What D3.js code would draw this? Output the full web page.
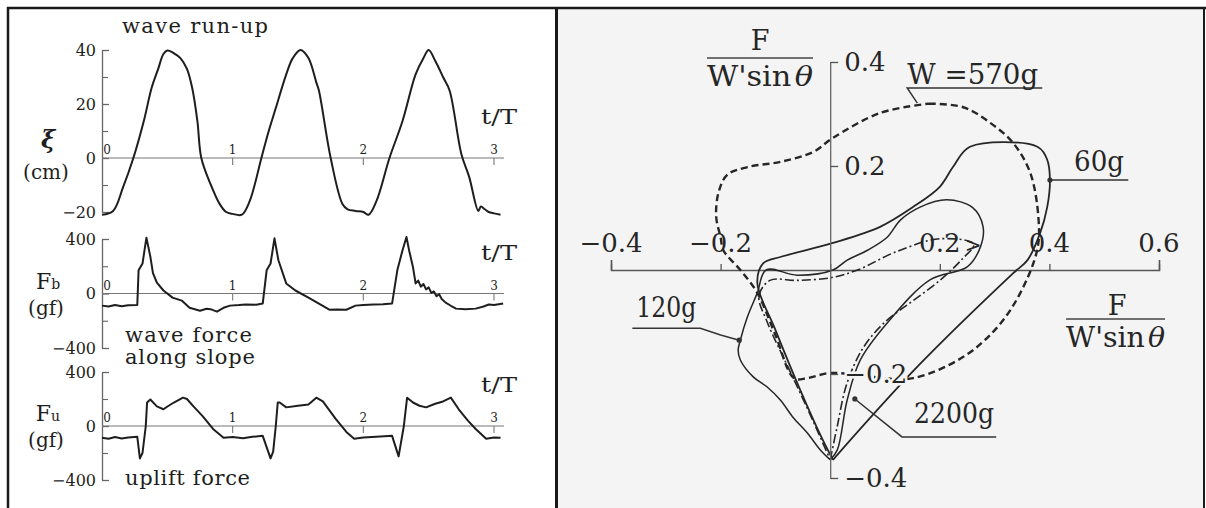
<!DOCTYPE html>
<html>
<head>
<meta charset="utf-8">
<script src="https://cdn.jsdelivr.net/npm/d3@7"></script>
<style>
  html, body { margin: 0; padding: 0; background: #fff; }
  svg { display: block; font-family: "DejaVu Serif", "Liberation Serif", serif; }
</style>
</head>
<body>
<svg id="chart" width="1206" height="508"></svg>
<script>
// ---- time records (t/T against value) ----
const periodTicks = [0, 1, 2, 3];

const runupT = [0, 0.085, 0.16, 0.24, 0.32, 0.38, 0.43, 0.47, 0.5, 0.52, 0.56, 0.6, 0.65, 0.69, 0.73,
  0.76, 0.83, 0.9, 0.95, 1.0, 1.07, 1.13, 1.22, 1.27, 1.33, 1.41, 1.46, 1.52, 1.58, 1.64,
  1.66, 1.75, 1.84, 1.88, 1.94, 2.0, 2.04, 2.1, 2.2, 2.3, 2.4, 2.46, 2.5, 2.55, 2.61,
  2.66, 2.75, 2.81, 2.88, 2.9, 2.93, 2.96, 3.0, 3.05];
const runupXi = [-21, -19.6, -11, 0, 13.7, 26, 33, 38.5, 39.8, 39.6, 38.5, 37, 33, 26, 13.7,
  0, -9.6, -17, -20, -20.7, -21, -16, 0, 9, 18.5, 31, 37, 40, 37, 28,
  25, 0, -17, -19, -19.6, -20, -21, -16, 0, 13.7, 31, 37, 40, 36, 30,
  25, 1.5, -7, -19.6, -18, -19, -20, -20.5, -21];

const fbT = [0, 0.05, 0.1, 0.15, 0.2, 0.27, 0.28, 0.31, 0.34, 0.37, 0.39, 0.42, 0.47, 0.54, 0.61,
  0.67, 0.75, 0.8, 0.83, 0.88, 0.93, 0.98, 1.05, 1.1, 1.18, 1.23, 1.26, 1.29, 1.32, 1.35,
  1.41, 1.48, 1.58, 1.66, 1.74, 1.8, 1.87, 1.94, 2.0, 2.08, 2.15, 2.22, 2.26, 2.3, 2.33,
  2.35, 2.38, 2.4, 2.42, 2.44, 2.46, 2.48, 2.5, 2.52, 2.54, 2.56, 2.58, 2.6, 2.63, 2.67,
  2.71, 2.78, 2.86, 2.92, 2.96, 3.0, 3.07];
const fbVal = [-89, -95, -84, -93, -86, -85, 170, 220, 410, 270, 150, 80, 22, -30, -52,
  -104, -126, -112, -115, -133, -105, -89, -85, -80, -82, -74, 170, 220, 405, 244,
  74, 22, -30, -74, -119, -117, -119, -89, -85, -80, -78, -74, 170, 318, 415,
  318, 193, 74, 95, 50, 70, 30, 45, 5, 15, -20, -5, -40, -67, -90,
  -111, -115, -111, -95, -81, -85, -74];

const fuT = [0, 0.05, 0.1, 0.15, 0.2, 0.27, 0.29, 0.31, 0.335, 0.345, 0.37, 0.42, 0.47, 0.51, 0.55,
  0.62, 0.65, 0.7, 0.77, 0.85, 0.93, 1.0, 1.08, 1.15, 1.23, 1.29, 1.31, 1.33, 1.345, 1.36,
  1.41, 1.5, 1.58, 1.64, 1.69, 1.79, 1.87, 1.93, 2.0, 2.1, 2.22, 2.27, 2.31, 2.335, 2.38,
  2.43, 2.48, 2.55, 2.61, 2.67, 2.73, 2.8, 2.86, 2.94, 3.0, 3.05];
const fuVal = [-87, -95, -82, -92, -85, -80, -240, -200, 0, 174, 196, 145, 124, 150, 174,
  210, 200, 145, 73, -22, -87, -82, -90, -80, -73, -240, -190, 0, 174, 174,
  138, 150, 160, 210, 182, 51, -44, -94, -85, -80, -73, -225, 0, 210, 174,
  150, 138, 165, 182, 210, 124, 40, -22, -94, -85, -87];

const runupMajor = [40, 20, 0, -20];
const runupMinor = [30, 10, -10];
const forceMajor = [400, 0, -400];
const forceMinor = [200, -200];

// ---- force loops (F / W' sin θ, horizontal vs vertical) ----
const loopXTicks = [-0.4, -0.2, 0, 0.2, 0.4, 0.6];
const loopXLabels = [-0.4, -0.2, 0.2, 0.4, 0.6];
const loopYTicks = [0.4, 0.2, -0.2, -0.4];

const loop570 = [[0.18, 0.32], [0.243, 0.313], [0.292, 0.283], [0.334, 0.244], [0.365, 0.187],
  [0.38, 0.10], [0.378, 0.04], [0.347, -0.044], [0.305, -0.11], [0.243, -0.167], [0.151, -0.208],
  [0.07, -0.205], [0, -0.198], [-0.042, -0.208], [-0.066, -0.208], [-0.1, -0.125], [-0.133, -0.044],
  [-0.164, 0], [-0.195, 0.038], [-0.2, 0.063], [-0.208, 0.102], [-0.204, 0.148], [-0.188, 0.183],
  [-0.151, 0.198], [-0.091, 0.208], [-0.031, 0.227], [0.005, 0.254], [0.091, 0.302], [0.18, 0.32]];
const loop60 = [[0.005, -0.365], [0.16, -0.185], [0.334, -0.006], [0.36, 0.019], [0.383, 0.071],
  [0.396, 0.121], [0.401, 0.173], [0.396, 0.212], [0.378, 0.237], [0.255, 0.237], [0.224, 0.198],
  [0.2, 0.16], [0.151, 0.121], [0.091, 0.083], [0.005, 0.052], [-0.091, 0.025], [-0.122, 0.013],
  [-0.133, -0.025], [-0.1, -0.115], [-0.055, -0.23], [-0.018, -0.317], [0.005, -0.365]];
const loop120 = [[0, -0.365], [0.013, -0.346], [0.031, -0.25], [0.055, -0.173], [0.104, -0.102],
  [0.182, -0.019], [0.25, 0.006], [0.274, 0.044], [0.279, 0.083], [0.26, 0.12], [0.213, 0.135],
  [0.164, 0.121], [0.128, 0.096], [0.104, 0.063], [0.068, 0.038], [0.031, 0.019], [0.005, 0],
  [-0.06, -0.01], [-0.117, 0], [-0.133, -0.044], [-0.151, -0.09], [-0.164, -0.135], [-0.168, -0.154],
  [-0.164, -0.173], [-0.14, -0.206], [-0.115, -0.225], [-0.091, -0.25], [-0.068, -0.283],
  [-0.042, -0.313], [-0.018, -0.346], [0, -0.365]];
const loop2200 = [[0, -0.365], [0.013, -0.3], [0.03, -0.22], [0.06, -0.15], [0.1, -0.1], [0.15, -0.06],
  [0.2, -0.02], [0.24, 0.02], [0.262, 0.05], [0.2, 0.06], [0.12, 0.035], [0.05, 0], [0, -0.015],
  [-0.06, -0.02], [-0.11, -0.02], [-0.13, -0.05], [-0.115, -0.1], [-0.08, -0.18], [-0.04, -0.27], [0, -0.365]];

// weight labels and their leader lines, in loop coordinates
const loopNotes = [
  { label: 'W =570g', at: [0.1405, 0.358], len: 131, leader: [[0.387, 0.35], [0.1405, 0.35], [0.159, 0.321]], dot: false },
  { label: '60g', at: [0.445, 0.19], len: 50, leader: [[0.544, 0.173], [0.401, 0.173]], dot: true },
  { label: '120g', at: [-0.354, -0.09], len: 60, leader: [[-0.361, -0.112], [-0.237, -0.112], [-0.2, -0.125], [-0.166, -0.135]], dot: true },
  { label: '2200g', at: [0.153, -0.294], len: 80, leader: [[0.303, -0.321], [0.131, -0.321], [0.045, -0.248]], dot: true }
];

const svg = d3.select('#chart');
const ink = '#1e1e1e';
const axisInk = '#666';

// panels and frame
svg.append('rect').attr('x', 8).attr('y', 8).attr('width', 548).attr('height', 500).attr('fill', '#fff');
svg.append('rect').attr('x', 557).attr('y', 8).attr('width', 647).attr('height', 500).attr('fill', '#f4f4f4');

// ---- left: time records ----
const xT = d3.scaleLinear().domain([0, 3]).range([102, 494]);
const xEnd = xT.range()[1] + 10;

const panels = [
  { t: runupT, v: runupXi, domain: [-20, 40], range: [212, 50], major: runupMajor, minor: runupMinor,
    name: 'ξ', sub: '', unit: '(cm)', curve: d3.curveCatmullRom.alpha(0.5) },
  { t: fbT, v: fbVal, domain: [-400, 400], range: [348, 239], major: forceMajor, minor: forceMinor,
    name: 'F', sub: 'b', unit: '(gf)', curve: d3.curveLinear },
  { t: fuT, v: fuVal, domain: [-400, 400], range: [480, 372], major: forceMajor, minor: forceMinor,
    name: 'F', sub: 'u', unit: '(gf)', curve: d3.curveLinear }
];

panels.forEach((p) => {
  const y = d3.scaleLinear().domain(p.domain).range(p.range);
  const y0 = y(0);
  const g = svg.append('g');

  const yAxis = g.append('g')
    .attr('transform', `translate(${xT(0)},0)`)
    .call(d3.axisLeft(y).tickValues(p.major).tickSizeInner(-7).tickSizeOuter(0).tickPadding(6));
  yAxis.attr('font-family', null).attr('font-size', null);
  yAxis.select('.domain').attr('stroke', axisInk).attr('stroke-width', 1.3);
  yAxis.selectAll('.tick line').attr('stroke', axisInk).attr('stroke-width', 1.3);
  yAxis.selectAll('.tick text').attr('fill', ink).attr('font-size', 16);

  const yMinor = g.append('g')
    .attr('transform', `translate(${xT(0)},0)`)
    .call(d3.axisLeft(y).tickValues(p.minor).tickSizeInner(-6).tickSizeOuter(0).tickFormat(''));
  yMinor.select('.domain').remove();
  yMinor.selectAll('.tick line').attr('stroke', axisInk).attr('stroke-width', 1.1);

  // zero line and period ticks
  g.append('line')
    .attr('x1', xT(0)).attr('x2', xEnd).attr('y1', y0).attr('y2', y0)
    .attr('stroke', '#777').attr('stroke-width', 1.2);
  g.selectAll('.ptick').data(periodTicks.slice(1)).join('line')
    .attr('x1', (d) => xT(d)).attr('x2', (d) => xT(d))
    .attr('y1', y0).attr('y2', y0 + 7)
    .attr('stroke', '#777').attr('stroke-width', 1.1);
  g.selectAll('.plabel').data(periodTicks).join('text')
    .attr('x', (d) => (d === 0 ? xT(d) + 5 : xT(d)))
    .attr('y', y0 - 4)
    .attr('text-anchor', 'middle')
    .attr('font-size', 12)
    .attr('fill', ink)
    .text((d) => d);

  g.append('text')
    .attr('x', 499).attr('y', y0 - 34)
    .attr('text-anchor', 'middle')
    .attr('font-size', 20)
    .attr('fill', ink)
    .attr('textLength', 36).attr('lengthAdjust', 'spacingAndGlyphs')
    .text('t/T');

  // quantity name and unit
  const nameText = g.append('text')
    .attr('x', 48).attr('y', p.sub ? y0 - 5 : y0 - 10)
    .attr('text-anchor', 'middle')
    .attr('fill', ink)
    .attr('font-size', 22);
  if (p.sub) {
    nameText.append('tspan').text(p.name);
    nameText.append('tspan').attr('font-size', 14).text(p.sub);
  } else {
    nameText.attr('font-style', 'italic').attr('font-weight', 'bold').attr('font-size', 24).text(p.name);
  }
  g.append('text')
    .attr('x', 46).attr('y', y0 + 21)
    .attr('text-anchor', 'middle')
    .attr('font-size', 20)
    .attr('fill', ink)
    .text(p.unit);

  const line = d3.line()
    .x((d) => xT(d[0]))
    .y((d) => y(d[1]))
    .curve(p.curve);
  g.append('path')
    .datum(d3.zip(p.t, p.v))
    .attr('d', line)
    .attr('fill', 'none')
    .attr('stroke', ink)
    .attr('stroke-width', 2)
    .attr('stroke-linejoin', 'round');
});

// record titles
const titles = [
  { text: 'wave run-up', x: 122, y: 33, len: 146 },
  { text: 'wave force', x: 125, y: 342, len: 127 },
  { text: 'along slope', x: 125, y: 364, len: 130 },
  { text: 'uplift force', x: 125, y: 485, len: 125 }
];
svg.selectAll('.title').data(titles).join('text')
  .attr('x', (d) => d.x).attr('y', (d) => d.y)
  .attr('font-size', 21)
  .attr('fill', ink)
  .attr('textLength', (d) => d.len).attr('lengthAdjust', 'spacing')
  .text((d) => d.text);

// ---- right: force loops ----
const xL = d3.scaleLinear().domain([-0.4, 0.6]).range([611, 1159]);
const yL = d3.scaleLinear().domain([-0.4, 0.4]).range([478, 62]);
const loopInk = '#262626';
const rg = svg.append('g');

const xAxisL = rg.append('g')
  .attr('transform', `translate(0,${yL(0)})`)
  .call(d3.axisTop(xL).tickValues(loopXTicks).tickSizeInner(6).tickSizeOuter(10).tickFormat(''));
xAxisL.select('.domain').attr('stroke', '#555').attr('stroke-width', 1.6);
xAxisL.selectAll('.tick line').attr('stroke', '#555').attr('stroke-width', 1.3);

rg.selectAll('.xl').data(loopXLabels).join('text')
  .attr('x', (d) => xL(d)).attr('y', yL(0) - 18)
  .attr('text-anchor', 'middle')
  .attr('font-size', 26)
  .attr('fill', loopInk)
  .attr('stroke', '#f4f4f4').attr('stroke-width', 4).attr('paint-order', 'stroke')
  .text((d) => d3.format('.1f')(d));
rg.append('text')
  .attr('x', xL(0.2) + 25).attr('y', yL(0) - 18)
  .attr('font-size', 20).attr('fill', loopInk)
  .text('>');

// loops
const loopLine = d3.line()
  .x((d) => xL(d[0]))
  .y((d) => yL(d[1]))
  .curve(d3.curveCatmullRom.alpha(0.5));
const loops = [
  { pts: loop60, width: 1.8, dash: null },
  { pts: loop120, width: 1.5, dash: null },
  { pts: loop2200, width: 1.6, dash: '9,3,2,3' },
  { pts: loop570, width: 2.4, dash: '7,4' }
];
rg.selectAll('.loop').data(loops).join('path')
  .attr('d', (d) => loopLine(d.pts))
  .attr('fill', 'none')
  .attr('stroke', loopInk)
  .attr('stroke-width', (d) => d.width)
  .attr('stroke-dasharray', (d) => d.dash)
  .attr('stroke-linejoin', 'round');

// vertical axis drawn over the loops so its labels break the curves
const yAxisL = rg.append('g')
  .attr('transform', `translate(${xL(0)},0)`)
  .call(d3.axisRight(yL).tickValues(loopYTicks).tickSizeInner(8).tickSizeOuter(0).tickPadding(6)
    .tickFormat(d3.format('.1f')));
yAxisL.attr('font-family', null).attr('font-size', null);
yAxisL.select('.domain').attr('stroke', '#666').attr('stroke-width', 1.3);
yAxisL.selectAll('.tick line').attr('stroke', '#555').attr('stroke-width', 1.3);
yAxisL.selectAll('.tick text')
  .attr('fill', loopInk).attr('font-size', 26)
  .attr('stroke', '#f4f4f4').attr('stroke-width', 5).attr('paint-order', 'stroke');

// weight labels
const noteLine = d3.line().x((d) => xL(d[0])).y((d) => yL(d[1]));
loopNotes.forEach((n) => {
  rg.append('path')
    .attr('d', noteLine(n.leader))
    .attr('fill', 'none')
    .attr('stroke', '#333')
    .attr('stroke-width', 1.5);
  if (n.dot) {
    const end = n.leader[n.leader.length - 1];
    rg.append('circle')
      .attr('cx', xL(end[0])).attr('cy', yL(end[1])).attr('r', 2.6)
      .attr('fill', '#333');
  }
  rg.append('text')
    .attr('x', xL(n.at[0])).attr('y', yL(n.at[1]))
    .attr('font-size', 27)
    .attr('fill', loopInk)
    .attr('textLength', n.len).attr('lengthAdjust', 'spacingAndGlyphs')
    .text(n.label);
});

// axis titles F / W' sin θ
const fracs = [
  { cx: 760, top: 50, bar: 58, bottom: 86, x0: 707, x1: 813 },
  { cx: 1117, top: 315, bar: 319, bottom: 347, x0: 1066, x1: 1165 }
];
fracs.forEach((f) => {
  rg.append('text')
    .attr('x', f.cx).attr('y', f.top)
    .attr('text-anchor', 'middle')
    .attr('font-size', 27).attr('fill', loopInk)
    .text('F');
  rg.append('line')
    .attr('x1', f.x0).attr('x2', f.x1).attr('y1', f.bar).attr('y2', f.bar)
    .attr('stroke', '#444').attr('stroke-width', 1.5);
  const den = rg.append('text')
    .attr('x', f.x0).attr('y', f.bottom)
    .attr('font-size', 27).attr('fill', loopInk)
    .attr('textLength', f.x1 - f.x0).attr('lengthAdjust', 'spacingAndGlyphs');
  den.append('tspan').text("W'sin");
  den.append('tspan').attr('font-style', 'italic').attr('dx', 3).text('θ');
});

// frame
const frame = svg.append('g').attr('stroke', '#1a1a1a').attr('fill', 'none');
frame.append('line').attr('x1', 7).attr('x2', 1206).attr('y1', 8).attr('y2', 8).attr('stroke-width', 2.5);
frame.append('line').attr('x1', 8).attr('x2', 8).attr('y1', 7).attr('y2', 508).attr('stroke-width', 2.5);
frame.append('line').attr('x1', 556.5).attr('x2', 556.5).attr('y1', 7).attr('y2', 508).attr('stroke-width', 3);
frame.append('line').attr('x1', 1204).attr('x2', 1204).attr('y1', 7).attr('y2', 508).attr('stroke-width', 2);
</script>
</body>
</html>
